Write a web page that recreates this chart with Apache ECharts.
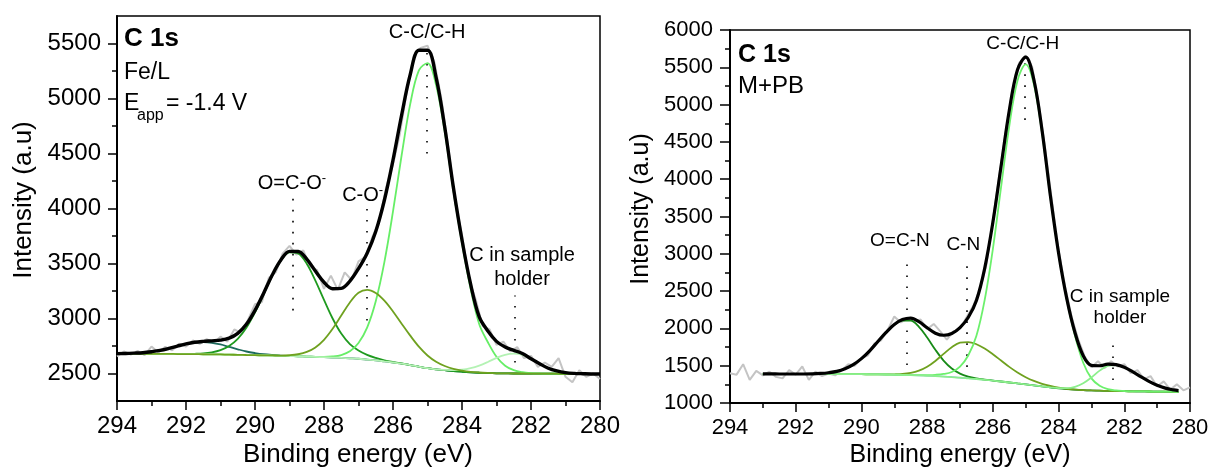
<!DOCTYPE html>
<html><head><meta charset="utf-8">
<script src="https://cdn.jsdelivr.net/npm/echarts@6/dist/echarts.min.js"></script>
<style>html,body{margin:0;padding:0;background:#fff}#c{width:1212px;height:475px}</style>
</head><body><div id="c"></div>
<script>
// ---------- Data: left panel (Fe/L, Eapp = -1.4 V) ----------
const energyL = [294,293.75,293.5,293.25,293,292.75,292.5,292.25,292,291.75,291.5,291.25,291,290.75,290.5,290.25,290,289.75,289.5,289.25,289,288.75,288.5,288.25,288,287.75,287.5,287.25,287,286.75,286.5,286.25,286,285.75,285.5,285.25,285,284.75,284.5,284.25,284,283.75,283.5,283.25,283,282.75,282.5,282.25,282,281.75,281.5,281.25,281,280.75,280.5,280.25,280];
const satL = [2681,2682,2685,2689,2698,2710,2728,2748,2768,2781,2785,2779,2764,2742,2720,2700,2686,2675,2668,2663,2660,2657,2654,2651,2648,2645,2642,2638,2634,2627,2620,2610,2600,2589,2577,2562,2548,2538,2530,2522,2516,2511,2507,2504,2502,2501,2500,2500,2499,2499,2498,2498,2497,2497,2497,2496,2496];
const ocoL = [2680,2680,2680,2679,2679,2678,2678,2678,2678,2679,2682,2692,2712,2750,2815,2915,3055,3220,3390,3528,3602,3591,3498,3345,3169,3000,2863,2768,2710,2670,2642,2620,2604,2591,2577,2562,2548,2538,2530,2522,2516,2511,2507,2504,2502,2501,2500,2500,2499,2499,2498,2498,2497,2497,2497,2496,2496];
const coL = [2680,2680,2680,2679,2679,2678,2678,2677,2677,2676,2675,2674,2673,2671,2670,2668,2667,2665,2664,2663,2666,2675,2696,2737,2806,2906,3027,3146,3234,3261,3232,3162,3064,2953,2844,2744,2664,2607,2568,2542,2526,2515,2509,2505,2502,2501,2500,2500,2499,2499,2498,2498,2497,2497,2497,2496,2496];
const cchL = [2680,2680,2680,2679,2679,2678,2678,2677,2677,2676,2675,2674,2673,2671,2670,2668,2667,2665,2663,2661,2659,2657,2654,2652,2651,2655,2668,2702,2778,2917,3157,3513,3973,4484,4951,5256,5322,5120,4698,4164,3686,3271,2947,2784,2652,2571,2530,2512,2504,2501,2498,2498,2497,2497,2497,2496,2496];
const holderL = [2680,2680,2680,2679,2679,2678,2678,2677,2677,2676,2675,2674,2673,2671,2670,2668,2667,2665,2663,2661,2659,2657,2654,2651,2648,2645,2642,2638,2634,2627,2620,2610,2600,2589,2577,2562,2548,2538,2533,2530,2534,2548,2572,2605,2642,2670,2680,2669,2629,2587,2548,2523,2508,2501,2498,2496,2496];
const envL = [2681,2682,2685,2689,2698,2710,2728,2749,2769,2784,2792,2797,2803,2821,2865,2947,3074,3230,3396,3532,3610,3609,3540,3432,3330,3271,3274,3340,3454,3594,3791,4075,4441,4850,5218,5438,5438,5189,4739,4192,3714,3312,3014,2886,2792,2740,2710,2681,2634,2589,2548,2523,2508,2501,2498,2496,2496];
const rawEnergy = [294,293.8,293.6,293.4,293.2,293,292.8,292.6,292.4,292.2,292,291.8,291.6,291.4,291.2,291,290.8,290.6,290.4,290.2,290,289.8,289.6,289.4,289.2,289,288.8,288.6,288.4,288.2,288,287.8,287.6,287.4,287.2,287,286.8,286.6,286.4,286.2,286,285.8,285.6,285.4,285.2,285,284.8,284.6,284.4,284.2,284,283.8,283.6,283.4,283.2,283,282.8,282.6,282.4,282.2,282,281.8,281.6,281.4,281.2,281,280.8,280.6,280.4,280.2,280];
const rawL = [2655,2700,2672,2705,2668,2745,2690,2742,2710,2770,2745,2800,2770,2812,2780,2835,2790,2900,2870,2990,3130,3150,3370,3420,3590,3660,3580,3620,3470,3440,3270,3390,3260,3420,3350,3520,3560,3740,3880,4190,4400,4680,5060,5390,5460,5480,5330,5000,4560,4060,3760,3360,3170,2930,2900,2760,2790,2700,2740,2640,2660,2560,2600,2560,2640,2470,2420,2530,2470,2500,2450];
const yMajorL = [2500,3000,3500,4000,4500,5000,5500];
const yMinorL = [2750,3250,3750,4250,4750,5250];

// ---------- Data: right panel (M+PB) ----------
const energyR = [293,292.75,292.5,292.25,292,291.75,291.5,291.25,291,290.75,290.5,290.25,290,289.75,289.5,289.25,289,288.75,288.5,288.25,288,287.75,287.5,287.25,287,286.75,286.5,286.25,286,285.75,285.5,285.25,285,284.75,284.5,284.25,284,283.75,283.5,283.25,283,282.75,282.5,282.25,282,281.75,281.5,281.25,281,280.75,280.5,280.35];
const bgR = [1390,1390,1389,1389,1389,1388,1388,1388,1388,1387,1387,1386,1386,1385,1384,1382,1380,1377,1373,1369,1365,1360,1354,1347,1340,1331,1322,1311,1300,1288,1275,1262,1250,1236,1222,1209,1196,1186,1178,1172,1168,1165,1162,1160,1158,1156,1155,1154,1153,1152,1151,1150];
const ocnR = [1390,1390,1389,1389,1389,1389,1391,1396,1406,1424,1459,1514,1595,1700,1823,1945,2047,2106,2105,2022,1878,1714,1569,1462,1394,1354,1330,1314,1301,1288,1275,1262,1250,1236,1222,1209,1196,1186,1178,1172,1168,1165,1162,1160,1158,1156,1155,1154,1153,1152,1151,1150];
const cnR = [1390,1390,1389,1389,1389,1388,1388,1388,1388,1387,1387,1386,1386,1385,1385,1384,1385,1389,1403,1433,1486,1564,1658,1748,1809,1817,1788,1730,1654,1569,1484,1409,1346,1296,1257,1228,1206,1191,1180,1173,1168,1165,1162,1160,1158,1156,1155,1154,1153,1152,1151,1150];
const cchR = [1390,1390,1389,1389,1389,1388,1388,1388,1388,1387,1387,1386,1386,1385,1384,1382,1380,1377,1375,1373,1374,1378,1389,1416,1488,1637,1902,2380,3064,3893,4713,5321,5540,5270,4612,3762,2998,2380,1900,1540,1330,1230,1185,1168,1161,1156,1155,1154,1153,1152,1151,1150];
const holderR = [1390,1390,1389,1389,1389,1388,1388,1388,1388,1387,1387,1386,1386,1385,1384,1382,1380,1377,1373,1369,1365,1360,1354,1347,1340,1331,1322,1311,1300,1288,1275,1262,1250,1236,1222,1210,1200,1200,1217,1264,1342,1434,1499,1507,1476,1420,1354,1290,1237,1199,1175,1165];
const envR = [1390,1390,1389,1389,1389,1389,1391,1396,1406,1424,1459,1514,1595,1700,1824,1947,2052,2118,2137,2090,2008,1936,1908,1932,2011,2146,2375,2802,3419,4174,4922,5468,5636,5330,4647,3782,3012,2399,1941,1633,1504,1499,1522,1515,1479,1420,1354,1290,1237,1199,1175,1165];
const rawR = [1400,1380,1520,1310,1430,1370,1420,1350,1330,1440,1380,1490,1310,1420,1360,1395,1370,1440,1520,1500,1600,1640,1800,1840,1980,2160,2080,2130,2100,2120,1990,2060,1960,1850,1960,2000,2150,2300,2520,2850,3450,4050,4650,5200,5560,5660,5500,5000,4380,3700,3050,2560,2150,1850,1620,1480,1560,1470,1560,1490,1520,1400,1440,1320,1360,1220,1290,1180,1250,1170,1210];

// peak markers: [energy, from intensity, to intensity]
const dotsL = [[288.9,3073,4109],[286.76,2982,4000],[285.03,4500,5500],[282.46,2600,3209]];
const dotsR = [[288.62,1509,2984],[286.8,1483,2944],[285.02,4794,5598],[282.36,1308,1885]];
// peak labels: [text, superscript, energy, intensity]
const labelsL = [['O=C-O','-',288.93,4227],['C-O','-',286.88,4114],['C-C/C-H','',285.01,5603],['C in sample\nholder','',282.26,3464]];
const labelsR = [['O=C-N','',288.83,3172],['C-N','',286.9,3118],['C-C/C-H','',285.09,5822],['C in sample\nholder','',282.13,2280]];

// ---------- Chart ----------
const FONT = "'Liberation Sans', Arial, Helvetica, sans-serif";
const chart = echarts.init(document.getElementById('c'), null, {renderer: 'canvas'});
const pairs = (xs, ys) => xs.map((x, i) => [x, ys[i]]);
const plain = v => String(v);

function line(xs, ys, color, width, xi, yi, z, smooth) {
  return {type: 'line', xAxisIndex: xi, yAxisIndex: yi, data: pairs(xs, ys), symbol: 'none', showSymbol: false,
    smooth: smooth, lineStyle: {color: color, width: width}, z: z, silent: true, animation: false};
}
function markers(dots, labels, fs, lh) {
  return {
    markLine: {silent: true, symbol: ['none', 'none'], animation: false, label: {show: false},
      emphasis: {disabled: true},
      lineStyle: {color: '#000', width: 1.6, type: [1.6, 9.4], cap: 'butt'},
      data: dots.map(d => [{coord: [d[0], d[1]]}, {coord: [d[0], d[2]]}])},
    markPoint: {silent: true, animation: false, symbol: 'circle', symbolSize: 1,
      itemStyle: {color: 'rgba(0,0,0,0)'},
      data: labels.map(l => ({coord: [l[2], l[3]],
        label: {show: true, position: 'inside', color: '#000',
          formatter: () => '{t|' + l[0].split('\n').join('}\n{t|') + '}' + (l[1] ? '{s|' + l[1] + '}' : ''),
          rich: {t: {fontSize: fs, fontFamily: FONT, color: '#000', lineHeight: lh},
                 s: {fontSize: 13, fontFamily: FONT, color: '#000', verticalAlign: 'top', lineHeight: 12}}}}))}
  };
}
function xAx(gi, fs, margin) {
  return {gridIndex: gi, type: 'value', min: 280, max: 294, interval: 2, inverse: true,
    axisLine: {show: true, onZero: false, lineStyle: {color: '#000', width: 2}},
    axisTick: {show: true, length: 9, lineStyle: {color: '#000', width: 1.5}},
    minorTick: {show: true, splitNumber: 2, length: 5, lineStyle: {color: '#000', width: 1.5}},
    axisLabel: {fontSize: fs, color: '#000', fontFamily: FONT, margin: margin, formatter: plain},
    splitLine: {show: false}, minorSplitLine: {show: false}};
}

const envSeriesL = line(energyL, envL, '#000', 3.4, 0, 0, 20, 0.35);
Object.assign(envSeriesL, markers(dotsL, labelsL, 20, 24));
const envSeriesR = line(energyR, envR, '#000', 3.2, 1, 2, 20, 0.35);
Object.assign(envSeriesR, markers(dotsR, labelsR, 19, 21));

const option = {
  animation: false,
  backgroundColor: '#fff',
  grid: [
    {left: 117, top: 16, width: 483, height: 385, show: true, borderColor: '#000', borderWidth: 1.5, backgroundColor: 'transparent'},
    {left: 730, top: 30, width: 460, height: 373, show: true, borderColor: '#000', borderWidth: 1.5, backgroundColor: 'transparent'}
  ],
  xAxis: [xAx(0, 24, 13), xAx(1, 22, 14)],
  yAxis: [
    {gridIndex: 0, type: 'value', min: 2250, max: 5750, position: 'left',
      axisLine: {show: true, onZero: false, lineStyle: {color: '#000', width: 2}},
      axisTick: {show: true, length: 9, customValues: yMajorL, lineStyle: {color: '#000', width: 1.5}},
      axisLabel: {customValues: yMajorL, fontSize: 24, color: '#000', fontFamily: FONT, margin: 16, formatter: plain},
      splitLine: {show: false}},
    {gridIndex: 0, type: 'value', min: 2250, max: 5750, position: 'left', offset: 0,
      axisLine: {show: false},
      axisTick: {show: true, length: 5, customValues: yMinorL, lineStyle: {color: '#000', width: 1.5}},
      axisLabel: {show: false}, splitLine: {show: false}},
    {gridIndex: 1, type: 'value', min: 1000, max: 6000, interval: 500, position: 'left',
      axisLine: {show: true, onZero: false, lineStyle: {color: '#000', width: 2}},
      axisTick: {show: true, length: 10, lineStyle: {color: '#000', width: 1.5}},
      minorTick: {show: true, splitNumber: 2, length: 5, lineStyle: {color: '#000', width: 1.5}},
      axisLabel: {fontSize: 22, color: '#000', fontFamily: FONT, margin: 17, formatter: plain},
      splitLine: {show: false}, minorSplitLine: {show: false}}
  ],
  series: [
    line(rawEnergy, rawL, '#c4c4c4', 2, 0, 0, 2, false),
    line(energyL, satL, '#1d6b5c', 1.8, 0, 0, 5, 0.35),
    line(energyL, ocoL, '#1e9a1e', 1.8, 0, 0, 6, 0.35),
    line(energyL, cchL, '#66ee66', 1.8, 0, 0, 7, 0.35),
    line(energyL, holderL, '#b4f2b4', 1.8, 0, 0, 8, 0.35),
    line(energyL, coL, '#6fa11f', 1.8, 0, 0, 9, 0.35),
    envSeriesL,
    line(rawEnergy, rawR, '#c4c4c4', 2, 1, 2, 2, false),
    line(energyR, bgR, '#86b4e8', 1.5, 1, 2, 4, 0.35),
    line(energyR, ocnR, '#178a17', 1.8, 1, 2, 6, 0.35),
    line(energyR, cnR, '#6fa11f', 1.8, 1, 2, 7, 0.35),
    line(energyR, cchR, '#6cf06c', 1.8, 1, 2, 8, 0.35),
    line(energyR, holderR, '#8cef8c', 1.8, 1, 2, 9, 0.35),
    envSeriesR
  ],
  graphic: [
    {type: 'text', x: 124, y: 38.5, style: {text: 'C 1s', fill: '#000', font: 'bold 26px ' + FONT, align: 'left', verticalAlign: 'middle'}},
    {type: 'text', x: 124, y: 73, style: {text: 'Fe/L', fill: '#000', font: '23px ' + FONT, align: 'left', verticalAlign: 'middle'}},
    {type: 'text', x: 124, y: 103.5, style: {text: 'E', fill: '#000', font: '23px ' + FONT, align: 'left', verticalAlign: 'middle'}},
    {type: 'text', x: 137, y: 115.5, style: {text: 'app', fill: '#000', font: '16px ' + FONT, align: 'left', verticalAlign: 'middle'}},
    {type: 'text', x: 166, y: 103.5, style: {text: '= -1.4 V', fill: '#000', font: '23px ' + FONT, align: 'left', verticalAlign: 'middle'}},
    {type: 'text', x: 738, y: 55, style: {text: 'C 1s', fill: '#000', font: 'bold 25px ' + FONT, align: 'left', verticalAlign: 'middle'}},
    {type: 'text', x: 738, y: 86.5, style: {text: 'M+PB', fill: '#000', font: '24px ' + FONT, align: 'left', verticalAlign: 'middle'}},
    {type: 'text', x: 24, y: 200, rotation: Math.PI / 2, style: {text: 'Intensity (a.u)', fill: '#000', font: '26px ' + FONT, align: 'center', verticalAlign: 'middle'}},
    {type: 'text', x: 358, y: 455, style: {text: 'Binding energy (eV)', fill: '#000', font: '26px ' + FONT, align: 'center', verticalAlign: 'middle'}},
    {type: 'text', x: 641, y: 209, rotation: Math.PI / 2, style: {text: 'Intensity (a.u)', fill: '#000', font: '25px ' + FONT, align: 'center', verticalAlign: 'middle'}},
    {type: 'text', x: 960, y: 455, style: {text: 'Binding energy (eV)', fill: '#000', font: '25px ' + FONT, align: 'center', verticalAlign: 'middle'}}
  ]
};
chart.setOption(option);
</script>
</body></html>
